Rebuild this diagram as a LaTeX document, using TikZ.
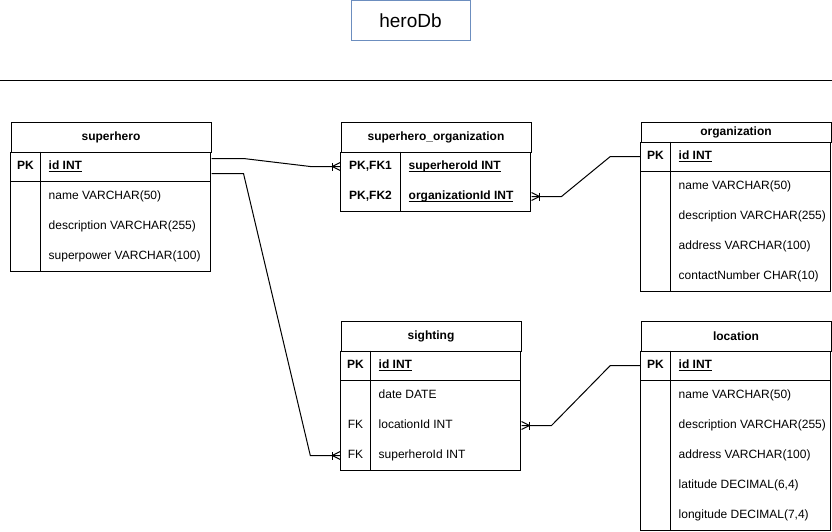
\documentclass[tikz,border=0pt]{standalone}
\usepackage{fontspec}
\setmainfont{Liberation Sans}
\usetikzlibrary{calc,positioning,decorations.markings}

\definecolor{titleblue}{HTML}{6C8EBF}
\newcommand{\keyfield}[1]{\underline{\smash{#1}}}

\begin{document}
\begin{tikzpicture}[x=1pt,y=-1pt]
  \tikzset{
      tbl/.style={draw,line width=1pt},
      headcell/.style={tbl,anchor=north west,inner sep=0,font=\bfseries},
      keytext/.style={minimum width=#1,inner sep=0,text height=8.6pt,text depth=2.4pt},
      fieldtext/.style={anchor=west,inner xsep=8pt,inner ysep=0,
        text height=8.6pt,text depth=2.4pt},
      crowfoot/.style={postaction={decorate},
        decoration={markings,mark=at position 1 with {
          \draw[line width=1pt] (-8pt,-4pt) -- (-8pt,4pt);
          \draw[line width=1pt] (0,-4pt) -- (-8pt,0) -- (0,4pt);}}},
      relation/.style={line width=1pt,crowfoot},
  }
  \fontsize{12pt}{14pt}\selectfont
  \useasboundingbox (0,0) rectangle (832,531);

  % title and rule
  \node[draw=titleblue,line width=1pt,minimum width=119pt,minimum height=40pt,
    inner sep=0,font=\fontsize{19pt}{22pt}\selectfont] (title) at (410.5,20.5) {heroDb};
  \draw[line width=1pt] (0,80.5) -- (832,80.5);

  % superhero
  \node[headcell,minimum width=200pt,minimum height=30pt] (sh) at (10.5,121.5) {superhero};
  \draw[tbl] (sh.south west) rectangle (210.5,271.5);
  \draw[tbl] (10.5,181.5) -- (210.5,181.5);
  \draw[tbl] (40.5,151.5) -- (40.5,271.5);
  \node[keytext=30pt,font=\bfseries] (shk1) at (25.5,166.5) {PK};
  \node[fieldtext,font=\bfseries] (shf1) at (40.5,166.5) {\keyfield{id INT}};
  \foreach \txt [count=\i from 2] in {name VARCHAR(50),description VARCHAR(255),
      superpower VARCHAR(100)}
    \node[fieldtext] (shf\i) at (40.5,{136.5+30*\i}) {\txt};

  % superhero_organization
  \node[headcell,minimum width=190pt,minimum height=30pt] (so) at (340.5,121.5) {superhero\_organization};
  \draw[tbl] (so.south west) rectangle (530.5,211.5);
  \draw[tbl] (400.5,151.5) -- (400.5,211.5);
  \node[keytext=60pt,font=\bfseries] (sok1) at (370.5,166.5) {PK,FK1};
  \node[keytext=60pt,font=\bfseries] (sok2) at (370.5,196.5) {PK,FK2};
  \node[fieldtext,font=\bfseries] (sof1) at (400.5,166.5) {\keyfield{superheroId INT}};
  \node[fieldtext,font=\bfseries] (sof2) at (400.5,196.5) {\keyfield{organizationId INT}};

  % organization
  \node[headcell,minimum width=190pt,minimum height=20pt] (org) at (640.5,121.5) {organization};
  \draw[tbl] (org.south west) rectangle (830.5,291.5);
  \draw[tbl] (640.5,171.5) -- (830.5,171.5);
  \draw[tbl] (670.5,141.5) -- (670.5,291.5);
  \node[keytext=30pt,font=\bfseries] (orgk1) at (655.5,156.5) {PK};
  \node[fieldtext,font=\bfseries] (orgf1) at (670.5,156.5) {\keyfield{id INT}};
  \foreach \txt [count=\i from 2] in {name VARCHAR(50),description VARCHAR(255),
      address VARCHAR(100),contactNumber CHAR(10)}
    \node[fieldtext] (orgf\i) at (670.5,{126.5+30*\i}) {\txt};

  % sighting
  \node[headcell,minimum width=180pt,minimum height=30pt] (si) at (340.5,320.5) {sighting};
  \draw[tbl] (si.south west) rectangle (520.5,470.5);
  \draw[tbl] (340.5,380.5) -- (520.5,380.5);
  \draw[tbl] (370.5,350.5) -- (370.5,470.5);
  \node[keytext=30pt,font=\bfseries] (sik1) at (355.5,365.5) {PK};
  \node[keytext=30pt] (sik3) at (355.5,425.5) {FK};
  \node[keytext=30pt] (sik4) at (355.5,455.5) {FK};
  \node[fieldtext,font=\bfseries] (sif1) at (370.5,365.5) {\keyfield{id INT}};
  \foreach \txt [count=\i from 2] in {date DATE,locationId INT,superheroId INT}
    \node[fieldtext] (sif\i) at (370.5,{335.5+30*\i}) {\txt};

  % location
  \node[headcell,minimum width=190pt,minimum height=30pt] (loc) at (640.5,320.5) {location};
  \draw[tbl] (loc.south west) rectangle (830.5,530.5);
  \draw[tbl] (640.5,380.5) -- (830.5,380.5);
  \draw[tbl] (670.5,350.5) -- (670.5,530.5);
  \node[keytext=30pt,font=\bfseries] (lock1) at (655.5,365.5) {PK};
  \node[fieldtext,font=\bfseries] (locf1) at (670.5,365.5) {\keyfield{id INT}};
  \foreach \txt [count=\i from 2] in {name VARCHAR(50),description VARCHAR(255),
      address VARCHAR(100),{latitude DECIMAL(6,4)},{longitude DECIMAL(7,4)}}
    \node[fieldtext] (locf\i) at (670.5,{335.5+30*\i}) {\txt};

  % relations
  \draw[relation] ($(shf1 -| sh.east)+(0,-8)$) -- ++(32,0)
    -- ($(sok1.west)+(-30,0)$) -- (sok1.west);
  \draw[relation] ($(shf1 -| sh.east)+(0,7)$) -- ++(32,0)
    -- ($(sik4.west)+(-30,0)$) -- (sik4.west);
  \draw[relation] (orgk1.west) -- ++(-30,0)
    -- ($(sof2 -| so.east)+(30,0)$) -- (sof2 -| so.east);
  \draw[relation] (lock1.west) -- ++(-30,0)
    -- ($(sif3 -| si.east)+(30,0)$) -- (sif3 -| si.east);
\end{tikzpicture}
\end{document}
